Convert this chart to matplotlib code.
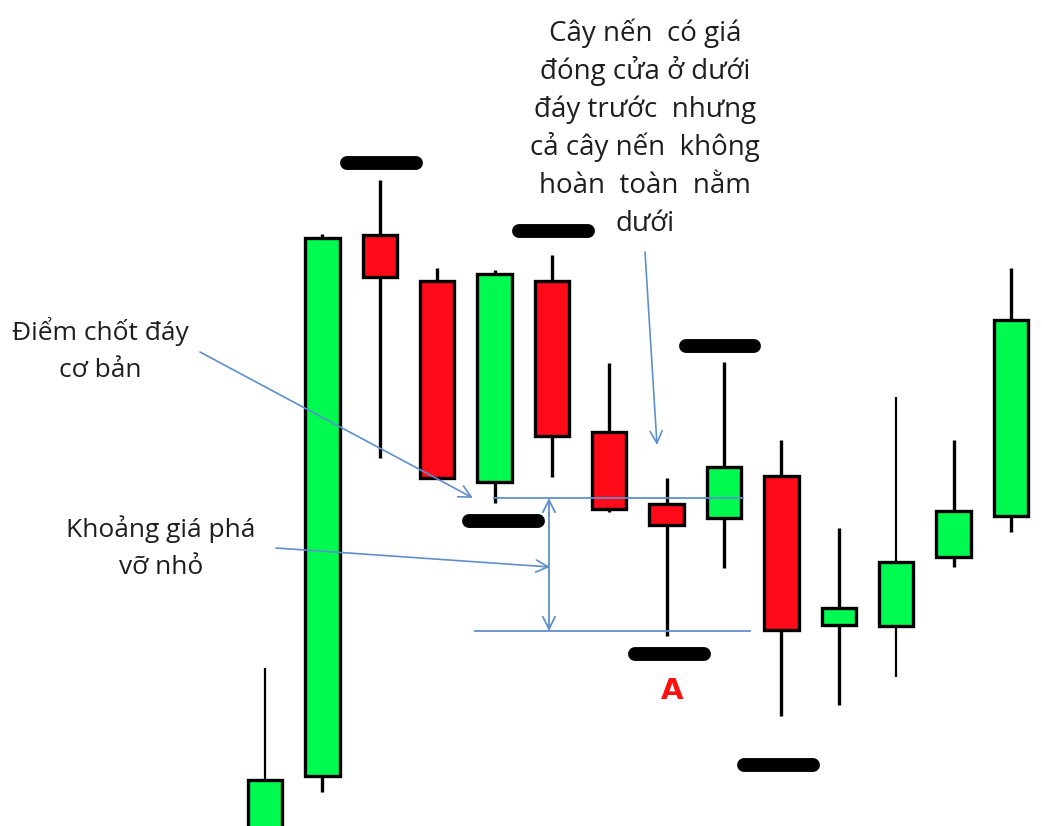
import matplotlib
matplotlib.use("Agg")
import matplotlib.pyplot as plt
from matplotlib.patches import Rectangle
import numpy as np

# ---- data (price units; higher = up) ----
opens  = [-20, 50, 591, 545, 344, 545, 394, 322, 308, 350, 201, 200, 269, 310]
closes = [46, 588, 549, 348, 552, 390, 317, 301, 359, 196, 218, 264, 315, 506]
highs  = [158, 592, 646, 558, 556, 571, 463, 348, 464, 386, 298, 429, 386, 558]
lows   = [-20, 34, 368, 348, 323, 349, 314, 190, 258, 110, 121, 149, 259, 294]

pivot_idx    = [2, 5, 4, 8, 7, 9]
pivot_price  = [663, 595, 305, 480, 172, 61]
pivot_offset = [0.03, 0.03, 0.15, -0.07, 0.05, -0.05]

support_level = 328   # previous low level
break_level = 195     # low of candle A
label_pivot = ["Điểm chốt đáy", "cơ bản"]
label_range = ["Khoảng giá phá", "vỡ nhỏ"]
label_candle = ["Cây nến  có giá", "đóng cửa ở dưới", "đáy trước  nhưng",
                "cả cây nến  không", "hoàn  toàn  nằm", "dưới"]

GREEN = "#00FA50"
RED = "#FF0A18"
BLUE = "#5E8FCC"
TXT = "#1E1E1E"

W, H = 1042, 826
fig = plt.figure(figsize=(W / 100, H / 100), dpi=100)
ax = fig.add_axes([0, 0, 1, 1])
step = 57.38
x0 = 265.0
ax.set_xlim(-x0 / step, (W - x0) / step)
ax.set_ylim(0, H)
ax.axis("off")

def px(xpix):
    return (xpix - x0) / step

bw = 0.6
for i, (o, c, h, l) in enumerate(zip(opens, closes, highs, lows)):
    col = GREEN if c >= o else RED
    lw_w = 1.6 if i in (0, 11) else 2.4
    ax.plot([i, i], [l, h], color="black", lw=lw_w, zorder=2, solid_capstyle="butt")
    lo, hi = min(o, c), max(o, c)
    ax.add_patch(Rectangle((i - bw / 2, lo), bw, hi - lo, facecolor=col,
                           edgecolor="black", lw=2.4, zorder=3))

for i, p, off in zip(pivot_idx, pivot_price, pivot_offset):
    ax.plot([i + off - 0.6, i + off + 0.6], [p, p], color="black", lw=10,
            solid_capstyle="round", zorder=4)

# blue lines
ax.plot([px(494), px(743)], [support_level, support_level], color=BLUE, lw=1.3, zorder=5)
ax.plot([px(475), px(750)], [break_level, break_level], color=BLUE, lw=1.3, zorder=5)
ax.annotate("", xy=(px(549), break_level), xytext=(px(549), support_level),
            arrowprops=dict(arrowstyle="<->", color=BLUE, lw=1.3,
                            mutation_scale=22, shrinkA=0, shrinkB=0), zorder=5)

def block(lines, xc, base0, spacing, size):
    for k, s in enumerate(lines):
        ax.text(px(xc), 826 - (base0 + spacing * k), s, fontsize=size, color=TXT,
                ha="center", va="baseline", family="Open Sans")

# annotations
block(label_pivot, 100, 340, 37, 19)
ax.annotate("", xy=(px(473), 328), xytext=(px(200), 826 - 352),
            arrowprops=dict(arrowstyle="->", color=BLUE, lw=1.2, mutation_scale=22,
                            shrinkA=0, shrinkB=0))

block(label_range, 161, 537, 37, 19)
ax.annotate("", xy=(px(550), 826 - 567), xytext=(px(276), 826 - 548),
            arrowprops=dict(arrowstyle="->", color=BLUE, lw=1.2, mutation_scale=22,
                            shrinkA=0, shrinkB=0))

block(label_candle, 645, 41, 38, 20)
ax.annotate("", xy=(px(657), 826 - 445), xytext=(px(645), 826 - 252),
            arrowprops=dict(arrowstyle="->", color=BLUE, lw=1.2, mutation_scale=22,
                            shrinkA=0, shrinkB=0))

ax.text(px(672), 826 - 691, "A", fontsize=21, color="#FF1010", fontweight="bold",
        ha="center", va="center", family="DejaVu Sans")

fig.savefig("out.png", dpi=100, facecolor="white")
